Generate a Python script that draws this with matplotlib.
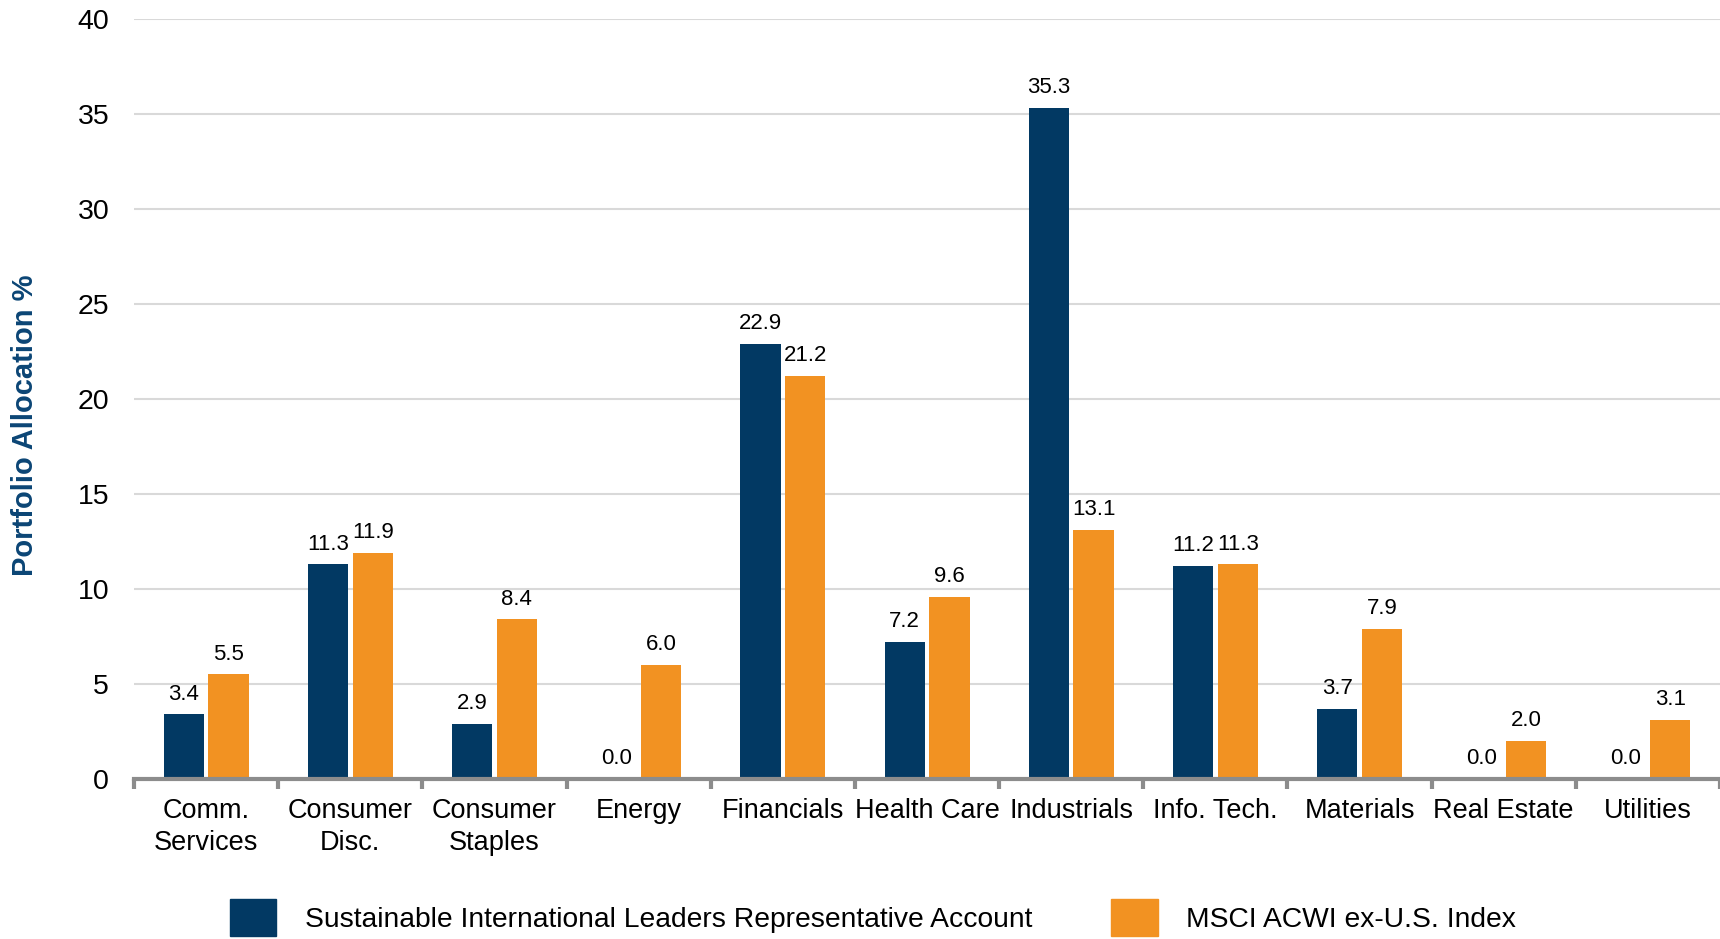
import numpy as np
import matplotlib.pyplot as plt
from matplotlib.patches import Patch

plt.rcParams['font.family'] = ['Liberation Sans', 'DejaVu Sans']

categories = ['Comm.\nServices', 'Consumer\nDisc.', 'Consumer\nStaples', 'Energy',
              'Financials', 'Health Care', 'Industrials', 'Info. Tech.',
              'Materials', 'Real Estate', 'Utilities']
account = [3.4, 11.3, 2.9, 0.0, 22.9, 7.2, 35.3, 11.2, 3.7, 0.0, 0.0]
index = [5.5, 11.9, 8.4, 6.0, 21.2, 9.6, 13.1, 11.3, 7.9, 2.0, 3.1]
series_names = ['Sustainable International Leaders Representative Account',
                'MSCI ACWI ex-U.S. Index']
yticks = [0, 5, 10, 15, 20, 25, 30, 35, 40]

NAVY = '#023963'
ORANGE = '#F29222'

fig = plt.figure(figsize=(17.2, 9.39), dpi=100)
ax = fig.add_axes([0.078, 0.1704, 0.922, 0.8096])

x = np.arange(len(categories))
w = 0.28
off = 0.155
b1 = ax.bar(x - off, account, width=w, color=NAVY, zorder=3)
b2 = ax.bar(x + off, index, width=w, color=ORANGE, zorder=3)

for bars, vals in [(b1, account), (b2, index)]:
    for rect, v in zip(bars, vals):
        ax.annotate(f'{v:.1f}', (rect.get_x() + rect.get_width() / 2, v),
                    xytext=(0, 7), textcoords='offset points',
                    ha='center', va='bottom', fontsize=16, color='black')

ax.set_xlim(-0.5, len(categories) - 0.5)
ax.set_ylim(0, 40)
ax.set_yticks(yticks)
ax.grid(axis='y', color='#d9d9d9', linewidth=1.5, zorder=0)

# category boundaries get the tick marks, centers get the labels
ax.set_xticks(np.arange(-0.5, len(categories), 1.0))
ax.set_xticklabels([])
ax.set_xticks(x, minor=True)
ax.set_xticklabels(categories, minor=True, fontsize=19.5, linespacing=1.3)
ax.tick_params(axis='x', which='major', length=7, width=3, color='#8c8c8c', direction='out')
ax.tick_params(axis='x', which='minor', length=0, pad=14)
ax.tick_params(axis='y', length=0, pad=18, labelsize=20.5)

for s in ['top', 'right', 'left']:
    ax.spines[s].set_visible(False)
ax.spines['bottom'].set_color('#8c8c8c')
ax.spines['bottom'].set_linewidth(3)
ax.spines['bottom'].set_zorder(4)

ax.set_ylabel('Portfolio Allocation %', fontsize=21, fontweight='bold', color='#0B4575')
ax.yaxis.set_label_coords(-0.06, 0.465)

handles = [Patch(color=NAVY), Patch(color=ORANGE)]
fig.legend(handles, series_names, loc='center left', bbox_to_anchor=(0.1337, 0.023),
           ncol=2, frameon=False, fontsize=20.3, handlelength=1.65, handleheight=1.65,
           handletextpad=1.0, columnspacing=2.8, borderpad=0, borderaxespad=0)

fig.savefig('out.png', dpi=100)
